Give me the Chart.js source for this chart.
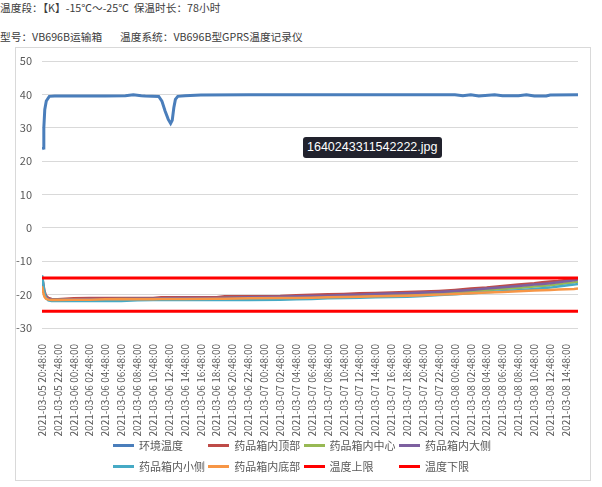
<!DOCTYPE html>
<html>
<head>
<meta charset="utf-8">
<script src="https://cdn.jsdelivr.net/npm/chart.js@4/dist/chart.umd.min.js"></script>
<style>
  html, body { margin: 0; padding: 0; background: #fff; }
  body { width: 602px; height: 487px; position: relative; overflow: hidden;
         font-family: "Noto Sans CJK SC", "Noto Sans", sans-serif; }
  .hdr { position: absolute; font-size: 10.7px; color: #3c3c3c; white-space: pre; line-height: 16px; }
  #hdr1 { left: 0; top: 0px; }
  #hdr2a { left: 0; top: 29px; }
  #hdr2b { left: 120px; top: 29px; }
  #frame { position: absolute; left: 15px; top: 47px; width: 576px; height: 434px;
           border: 1px solid #d9d9d9; box-sizing: border-box; }
  #chart { position: absolute; left: 0; top: 0; }
  #legend { position: absolute; left: 113px; top: 437px; width: 400px; }
  .item { position: absolute; font-size: 11px; color: #595959; line-height: 16px; white-space: nowrap; }
  .swatch { position: absolute; left: 0; top: 7px; width: 21px; height: 3px; }
  .item span.txt { position: absolute; left: 26px; top: 0; }
  #tag { position: absolute; left: 303px; top: 137px; width: 139px; height: 21px; background: #21222d;
         border-radius: 3px; color: #fff; font: 12.5px "Liberation Sans", Arial, sans-serif;
         line-height: 21px; box-sizing: border-box; padding-left: 4px; }
</style>
</head>
<body>
<div class="hdr" id="hdr1">温度段：【K】-15℃～-25℃  保温时长：78小时</div>
<div class="hdr" id="hdr2a">型号：VB696B运输箱</div>
<div class="hdr" id="hdr2b">温度系统：VB696B型GPRS温度记录仪</div>
<div id="frame"></div>
<canvas id="chart" width="602" height="487"></canvas>
<div id="legend"></div>
<div id="tag">1640243311542222.jpg</div>
<script>
// x-axis tick labels, one every two hours of logging
const tickLabels = [
  "2021-03-05 20:48:00", "2021-03-05 22:48:00", "2021-03-06 00:48:00", "2021-03-06 02:48:00",
  "2021-03-06 04:48:00", "2021-03-06 06:48:00", "2021-03-06 08:48:00", "2021-03-06 10:48:00",
  "2021-03-06 12:48:00", "2021-03-06 14:48:00", "2021-03-06 16:48:00", "2021-03-06 18:48:00",
  "2021-03-06 20:48:00", "2021-03-06 22:48:00", "2021-03-07 00:48:00", "2021-03-07 02:48:00",
  "2021-03-07 04:48:00", "2021-03-07 06:48:00", "2021-03-07 08:48:00", "2021-03-07 10:48:00",
  "2021-03-07 12:48:00", "2021-03-07 14:48:00", "2021-03-07 16:48:00", "2021-03-07 18:48:00",
  "2021-03-07 20:48:00", "2021-03-07 22:48:00", "2021-03-08 00:48:00", "2021-03-08 02:48:00",
  "2021-03-08 04:48:00", "2021-03-08 06:48:00", "2021-03-08 08:48:00", "2021-03-08 10:48:00",
  "2021-03-08 12:48:00", "2021-03-08 14:48:00"
];

// series names
const seriesNames = ["环境温度", "药品箱内顶部", "药品箱内中心", "药品箱内大侧",
                     "药品箱内小侧", "药品箱内底部", "温度上限", "温度下限"];

// ambient temperature (hours since 2021-03-05 20:48, °C)
const ambientHours = [0, 0.15, 0.23, 0.35, 0.54, 0.92, 1.6, 4, 8, 10.5, 11.5, 12.5, 13, 14.7,
  15.1, 15.5, 15.9, 16.2, 16.4, 16.6, 16.8, 17.1, 18, 20, 26, 34, 42, 52, 53, 54, 55, 57, 58,
  60, 61, 62, 63.5, 64, 67.5];
const ambientTemp = [23.6, 23.9, 30, 35.5, 38, 39.4, 39.5, 39.5, 39.5, 39.6, 39.9, 39.6, 39.5, 39.4,
  38, 35, 32.5, 31.3, 32.2, 36, 38.5, 39.4, 39.6, 39.8, 39.9, 39.9, 39.9, 39.9, 39.6, 39.9, 39.5, 39.9, 39.6,
  39.6, 39.9, 39.5, 39.5, 39.8, 39.9];

// probe readings inside the box (hours since start, °C)
const probeHours = [0, 0.15, 0.3, 0.5, 0.8, 1.2, 2, 4, 6, 8, 10, 12, 14, 15, 18, 22, 23, 26, 30, 32,
  34, 36, 38, 40, 42, 44, 46, 48, 50, 52, 54, 56, 58, 60, 62, 63, 64, 65, 66, 67, 67.5];
const topTemp = [-14.5, -16.5, -18.8, -20.3, -21.0, -21.3, -21.4, -21.1, -21.0, -21.0, -21.0, -21.0, -21.0,
  -20.8, -20.8, -20.8, -20.5, -20.5, -20.4, -20.2, -20.0, -19.9, -19.8, -19.6, -19.5, -19.4, -19.2, -19.1,
  -18.9, -18.6, -18.2, -17.9, -17.4, -17.0, -16.6, -16.3, -16.1, -15.9, -15.6, -15.3, -15.1];
const centerTemp = [-15.5, -17.8, -19.8, -21.0, -21.4, -21.5, -21.5, -21.4, -21.4, -21.4, -21.3, -21.3, -21.3,
  -21.2, -21.1, -21.1, -21.0, -20.9, -20.8, -20.7, -20.6, -20.5, -20.4, -20.2, -20.1, -20.0, -19.9, -19.7,
  -19.5, -19.3, -19.0, -18.7, -18.3, -18.0, -17.6, -17.4, -17.2, -16.9, -16.6, -16.3, -16.1];
const bigSideTemp = [-15.2, -17.5, -19.5, -20.8, -21.3, -21.5, -21.5, -21.4, -21.3, -21.3, -21.3, -21.2, -21.2,
  -21.1, -21.0, -21.0, -20.9, -20.8, -20.6, -20.5, -20.4, -20.3, -20.1, -20.0, -19.8, -19.7, -19.6, -19.4,
  -19.2, -18.9, -18.6, -18.2, -17.8, -17.4, -17.0, -16.8, -16.6, -16.3, -16.0, -15.7, -15.5];
const smallSideTemp = [-14.2, -16.5, -19.3, -21.0, -21.7, -21.9, -21.9, -21.9, -21.9, -21.9, -21.9, -21.7, -21.6,
  -21.6, -21.6, -21.6, -21.6, -21.6, -21.5, -21.4, -21.3, -21.1, -21.0, -20.9, -20.8, -20.7, -20.6, -20.4,
  -20.1, -19.9, -19.6, -19.3, -19.0, -18.7, -18.3, -18.1, -17.9, -17.6, -17.3, -17.0, -16.8];
const bottomTemp = [-17.5, -19.3, -20.6, -21.2, -21.5, -21.6, -21.6, -21.5, -21.5, -21.4, -21.4, -21.4, -21.4,
  -21.3, -21.3, -21.2, -21.2, -21.1, -21.0, -21.0, -20.9, -20.8, -20.7, -20.6, -20.5, -20.4, -20.3, -20.2,
  -20.0, -19.8, -19.6, -19.4, -19.2, -19.0, -18.8, -18.7, -18.6, -18.5, -18.4, -18.3, -18.2];

// alarm limits
const limitHours = [0, 67.5];
const upperLimit = [-15, -15];
const lowerLimit = [-25, -25];

const seriesColors = ["#4a7ebb", "#be4b48", "#98b954", "#7d60a0", "#46aac5", "#f79646", "#ff0000", "#ff0000"];
const seriesWidths = [3, 2.5, 2.5, 2.5, 2.5, 2.5, 3, 3];

const zip = (xs, ys) => xs.map((x, i) => ({ x: x, y: ys[i] }));
const seriesData = [
  zip(ambientHours, ambientTemp),
  zip(probeHours, topTemp),
  zip(probeHours, centerTemp),
  zip(probeHours, bigSideTemp),
  zip(probeHours, smallSideTemp),
  zip(probeHours, bottomTemp),
  zip(limitHours, upperLimit),
  zip(limitHours, lowerLimit)
];

const datasets = seriesData.map((d, i) => ({
  label: seriesNames[i],
  data: d,
  borderColor: seriesColors[i],
  backgroundColor: seriesColors[i],
  borderWidth: seriesWidths[i],
  pointRadius: 0,
  tension: 0,
  fill: false,
  // later series are painted over earlier ones
  order: seriesNames.length - i
}));

const axisFont = { family: '"Noto Sans CJK SC", "Liberation Sans", sans-serif', size: 10 };

new Chart(document.getElementById('chart'), {
  type: 'line',
  data: { datasets: datasets },
  options: {
    responsive: false,
    animation: false,
    layout: { padding: { left: 0, top: 61, right: 24, bottom: 0 } },
    plugins: { legend: { display: false }, tooltip: { enabled: false } },
    scales: {
      x: {
        type: 'linear',
        min: 0,
        max: 67.5,
        grid: { display: false },
        border: { display: false },
        ticks: {
          stepSize: 2,
          includeBounds: false,
          autoSkip: false,
          minRotation: 90,
          maxRotation: 90,
          padding: 8,
          color: '#595959',
          font: axisFont,
          callback: v => tickLabels[Math.round(v / 2)] || ''
        },
        afterFit: s => { s.height = 487 - 328; }
      },
      y: {
        min: -30,
        max: 50,
        grid: { color: '#d9d9d9', lineWidth: 1, drawTicks: false },
        border: { display: false },
        ticks: {
          stepSize: 10,
          padding: 10,
          color: '#595959',
          font: { family: '"Noto Sans CJK SC", "Liberation Sans", sans-serif', size: 11 }
        },
        afterFit: s => { s.width = 42; }
      }
    }
  }
});

// legend laid out as a 4-column grid under the plot
const legend = document.getElementById('legend');
seriesNames.forEach((name, i) => {
  const item = document.createElement('div');
  item.className = 'item';
  item.style.left = (i % 4) * 95.3 + 'px';
  item.style.top = Math.floor(i / 4) * 21 + 'px';
  const sw = document.createElement('div');
  sw.className = 'swatch';
  sw.style.background = seriesColors[i];
  const tx = document.createElement('span');
  tx.className = 'txt';
  tx.textContent = name;
  item.appendChild(sw);
  item.appendChild(tx);
  legend.appendChild(item);
});
</script>
</body>
</html>
